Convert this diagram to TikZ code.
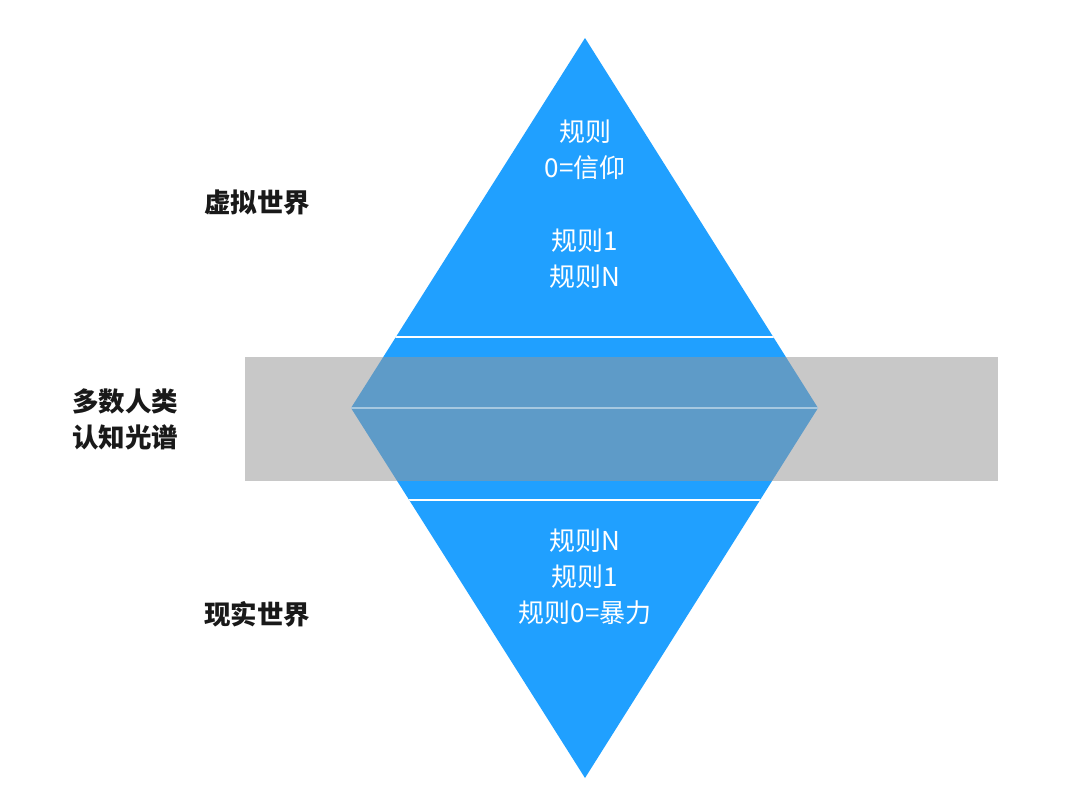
\documentclass[tikz,border=0pt]{standalone}
\usepackage{fontspec}
\newfontfamily\cjk{Noto Sans CJK SC}
\definecolor{tri}{RGB}{32,160,255}
\definecolor{band}{RGB}{200,200,200}
\definecolor{over}{RGB}{94,155,200}
\tikzset{
  intext/.style={font=\cjk\fontsize{26}{36}\selectfont, text=white, align=center, inner sep=0pt},
  sidetext/.style={font=\cjk\bfseries\fontsize{26.5}{36}\selectfont, text=black!90, align=center, inner sep=0pt},
  sep/.style={white, line width=2.5pt}
}
\begin{document}
\begin{tikzpicture}[x=1pt,y=-1pt]
\useasboundingbox[fill=white] (0,0) rectangle (1080,801);
\coordinate (T) at (585,38);
\coordinate (L) at (351,408);
\coordinate (R) at (818,408);
\coordinate (B) at (585,778);
\fill[tri] (T)--(L)--(R)--cycle;
\fill[tri] (L)--(B)--(R)--cycle;
\fill[band] (245,357) rectangle (998,481);
\begin{scope}
\clip (T)--(L)--(B)--(R)--cycle;
\fill[over] (245,357) rectangle (998,481);
\draw[sep] (245,337)--(998,337);
\draw[sep] (245,500)--(998,500);
\draw[white, opacity=0.45, line width=1.5pt] (L)--(R);
\end{scope}
\node[intext] (t1) at (585,150) {规则\\0=信仰};
\node[intext] (t2) at (585,259) {规则1\\规则N};
\node[intext] (b1) at (585,577) {规则N\\规则1\\规则0=暴力};
\node[sidetext] (s1) at (257,203) {虚拟世界};
\node[sidetext] (s2) at (125,419) {多数人类\\认知光谱};
\node[sidetext] (s3) at (257,614) {现实世界};
\end{tikzpicture}
\end{document}
